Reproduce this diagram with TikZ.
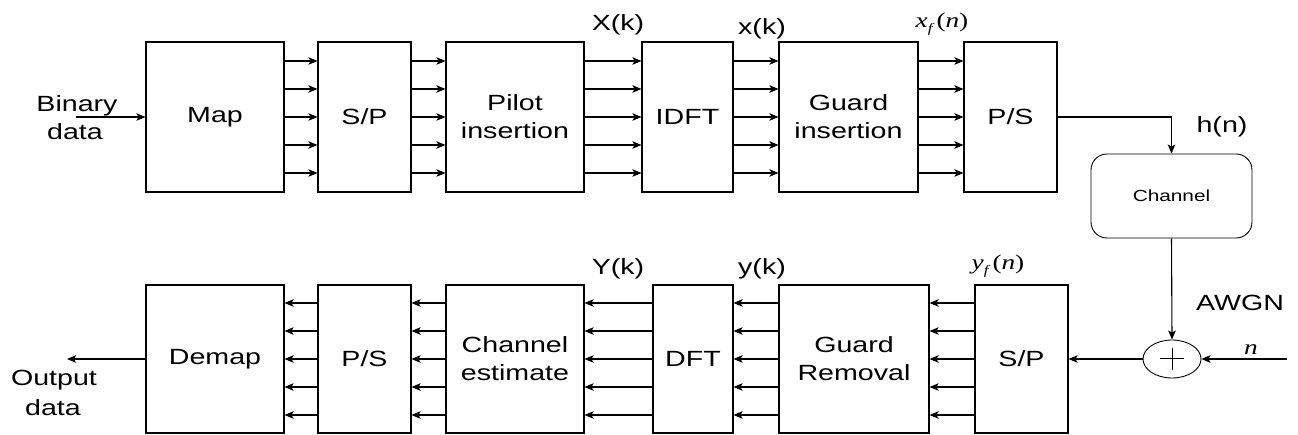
\documentclass[tikz,border=0pt]{standalone}
\usepackage{fontspec}
\setmainfont{Liberation Sans}[FakeStretch=1.3]
\newfontfamily\timesw{Liberation Serif}[FakeStretch=1.3]
\usetikzlibrary{arrows.meta,calc,shapes.geometric}
\begin{document}
\begin{tikzpicture}[x=1pt,y=-1pt,line width=1.1pt,
  blk/.style={draw,rectangle,minimum height=150pt,inner sep=0pt,align=center,font=\fontsize{22}{28}\selectfont},
  blkb/.style={blk,minimum height=148pt},
  lbl/.style={font=\fontsize{22}{28}\selectfont,inner sep=0pt,anchor=base},
  mlbl/.style={font=\timesw\fontsize{21}{24}\selectfont,inner sep=0pt,anchor=base},
  arr/.style={-{Stealth[length=9pt,width=7.5pt,inset=2pt]}},
]
\useasboundingbox (0,0) rectangle (1298,435);

% top row
\node[blk,minimum width=138pt] (map) at (215,117) {Map};
\node[blk,minimum width=93pt] (sp1) at (364.5,117) {S/P};
\node[blk,minimum width=138pt] (pil) at (515,117) {Pilot\\insertion};
\node[blk,minimum width=91pt] (idft) at (687.5,117) {IDFT};
\node[blk,minimum width=139pt] (gin) at (848.5,117) {Guard\\insertion};
\node[blk,minimum width=93pt] (ps1) at (1010.5,117) {P/S};

% bottom row
\node[blkb,minimum width=138pt] (dem) at (215,359) {Demap};
\node[blkb,minimum width=93pt] (ps2) at (364.5,359) {P/S};
\node[blkb,minimum width=138pt] (che) at (515,359) {Channel\\estimate};
\node[blkb,minimum width=80pt] (dft) at (693,359) {DFT};
\node[blkb,minimum width=150pt] (grm) at (854,359) {Guard\\Removal};
\node[blkb,minimum width=93pt] (sp2) at (1021.5,359) {S/P};

% channel and adder
\node[draw,rectangle,rounded corners=16pt,line width=0.9pt,minimum width=161pt,minimum height=84pt,inner sep=0pt,font=\fontsize{16}{18}\selectfont] (chan) at (1171.5,196) {Channel};
\node[draw,ellipse,line width=0.9pt,minimum width=58pt,minimum height=38pt,inner sep=0pt] (add) at (1172,359) {};
\draw[line width=1pt] ($(add.center)+(-12,0)$) -- ($(add.center)+(12,0)$);
\draw[line width=1pt] ($(add.center)+(0,-11)$) -- ($(add.center)+(0,11)$);

% parallel connectors
\foreach \a/\b in {map/sp1,sp1/pil,pil/idft,idft/gin,gin/ps1}{
  \foreach \d in {-56,-28,0,28,56}{
    \draw[arr] ($(\a.east)+(0,\d)$) -- ($(\b.west)+(0,\d)$);
  }
}
\foreach \a/\b in {sp2/grm,grm/dft,dft/che,che/ps2,ps2/dem}{
  \foreach \d in {-56,-28,0,28,56}{
    \draw[arr] ($(\a.west)+(0,\d)$) -- ($(\b.east)+(0,\d)$);
  }
}

% other connectors
\coordinate (bin) at (76,117);
\coordinate (out) at (67,359);
\coordinate (nin) at (1287,359);
\draw[arr] (bin) -- (map.west);
\draw[arr] (dem.west) -- (out);
\draw[arr] (ps1.east) -| (chan.north);
\draw[arr] (chan.south) -- (add.north);
\draw[arr] (nin) -- (add.east);
\draw[arr] (add.west) -- (sp2.east);

% labels
\node[lbl] (lb1) at (77,112) {Binary};
\node[lbl] (lb2) at (75,140) {data};
\node[lbl] (lo1) at (54,385) {Output};
\node[lbl] (lo2) at (53,415) {data};
\node[lbl] (lXk) at (618,31) {X(k)};
\node[lbl] (lxk) at (762,35) {x(k)};
\node[mlbl] (lxf) at (942,28) {\itshape x\raisebox{-5pt}{\fontsize{13}{13}\selectfont f}\hspace{4pt}\upshape(\itshape n\upshape)};
\node[lbl] (lYk) at (618,275) {Y(k)};
\node[lbl] (lyk) at (762,275) {y(k)};
\node[mlbl] (lyf) at (998,270) {\itshape y\raisebox{-5pt}{\fontsize{13}{13}\selectfont f}\hspace{4pt}\upshape(\itshape n\upshape)};
\node[lbl] (lhn) at (1222,133) {h(n)};
\node[lbl] (lawgn) at (1240,311) {AWGN};
\node[mlbl] (ln) at (1251,355) {\itshape n};
\end{tikzpicture}
\end{document}
